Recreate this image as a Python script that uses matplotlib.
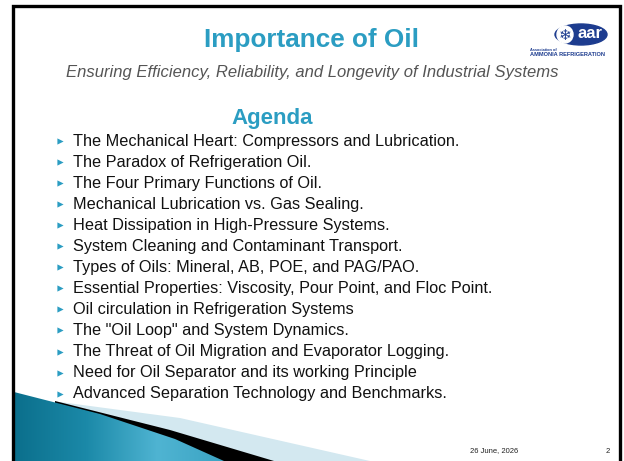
import numpy as np
import matplotlib
matplotlib.use("Agg")
import matplotlib.pyplot as plt
from matplotlib.patches import Polygon, Ellipse
from matplotlib.colors import LinearSegmentedColormap

plt.rcParams["font.family"] = ["Liberation Sans", "DejaVu Sans"]

TITLE = "Importance of Oil"
SUBTITLE = "Ensuring Efficiency, Reliability, and Longevity of Industrial Systems"
HEADING = "Agenda"
ITEMS = [
    "The Mechanical Heart: Compressors and Lubrication.",
    "The Paradox of Refrigeration Oil.",
    "The Four Primary Functions of Oil.",
    "Mechanical Lubrication vs. Gas Sealing.",
    "Heat Dissipation in High-Pressure Systems.",
    "System Cleaning and Contaminant Transport.",
    "Types of Oils: Mineral, AB, POE, and PAG/PAO.",
    "Essential Properties: Viscosity, Pour Point, and Floc Point.",
    "Oil circulation in Refrigeration Systems",
    "The \"Oil Loop\" and System Dynamics.",
    "The Threat of Oil Migration and Evaporator Logging.",
    "Need for Oil Separator and its working Principle",
    "Advanced Separation Technology and Benchmarks.",
]
DATE = "26 June, 2026"
PAGE = "2"

TEAL = "#2b9dc2"
NAVY = "#1d3c8f"

fig = plt.figure(figsize=(6.24, 4.61), dpi=100)
ax = fig.add_axes([0, 0, 1, 1])
ax.set_xlim(0, 624)
ax.set_ylim(461, 0)
ax.axis("off")

# slide frame
ax.plot([13, 13, 620, 620], [461, 6, 6, 461], color="black", lw=2.4,
        solid_joinstyle="miter", zorder=5)

# bottom-left swoosh
light = Polygon([(60, 402), (180, 418), (370, 461), (60, 461)],
                closed=True, color="#d3e8f0", lw=0, zorder=1)
ax.add_patch(light)
black = Polygon([(55, 401), (170, 430), (274, 461), (55, 461)],
                closed=True, color="black", lw=0, zorder=2)
ax.add_patch(black)
teal_poly = Polygon([(14, 392), (100, 414), (175, 439), (224, 461), (14, 461)],
                    closed=True, color="none", lw=0, zorder=3)
ax.add_patch(teal_poly)
cmap = LinearSegmentedColormap.from_list("sw", ["#0b6f8c", "#1b89a8", "#4fb4d2", "#3aa2c2"])
grad = np.linspace(0, 1, 256).reshape(1, -1)
im = ax.imshow(grad, extent=[14, 230, 461, 390], cmap=cmap, aspect="auto", zorder=3)
im.set_clip_path(teal_poly)
ax.set_xlim(0, 624)
ax.set_ylim(461, 0)

# titles
ax.text(312, 40, TITLE, ha="center", va="center", fontsize=18.8,
        fontweight="bold", color=TEAL)
ax.text(312, 72, SUBTITLE, ha="center", va="center", fontsize=12,
        style="italic", color="#555555")
ax.text(272, 118, HEADING, ha="center", va="center", fontsize=16,
        fontweight="bold", color=TEAL)

# agenda list
ys = 141 + 21.05 * np.arange(len(ITEMS))
ax.scatter(np.full(len(ITEMS), 60), ys, marker=">", s=20, color=TEAL,
           lw=0, zorder=4)
for y, item in zip(ys, ITEMS):
    ax.text(73, y, item, ha="left", va="center", fontsize=11.7, color="#111111")

# footer
ax.text(494, 451, DATE, ha="center", va="center", fontsize=5.5, color="#222222")
ax.text(608, 451, PAGE, ha="center", va="center", fontsize=5.5, color="#222222")

# logo
ax.add_patch(Ellipse((581, 34.5), 52, 21, color=NAVY, zorder=4))
ax.add_patch(Ellipse((565, 34.5), 16, 17, color="white", zorder=4))
ax.text(565, 35, "\u2744", ha="center", va="center", fontsize=11, color=NAVY,
        family="DejaVu Sans", zorder=5)
ax.text(590, 33.5, "aar", ha="center", va="center", fontsize=12, color="white",
        fontweight="bold", zorder=5)
ax.text(530, 50, "Association of", ha="left", va="center", fontsize=2.8,
        color=NAVY, fontweight="bold")
ax.text(530, 55, "AMMONIA REFRIGERATION", ha="left", va="center",
        fontsize=4.1, color=NAVY, fontweight="bold")

fig.savefig("out.png", dpi=100)
